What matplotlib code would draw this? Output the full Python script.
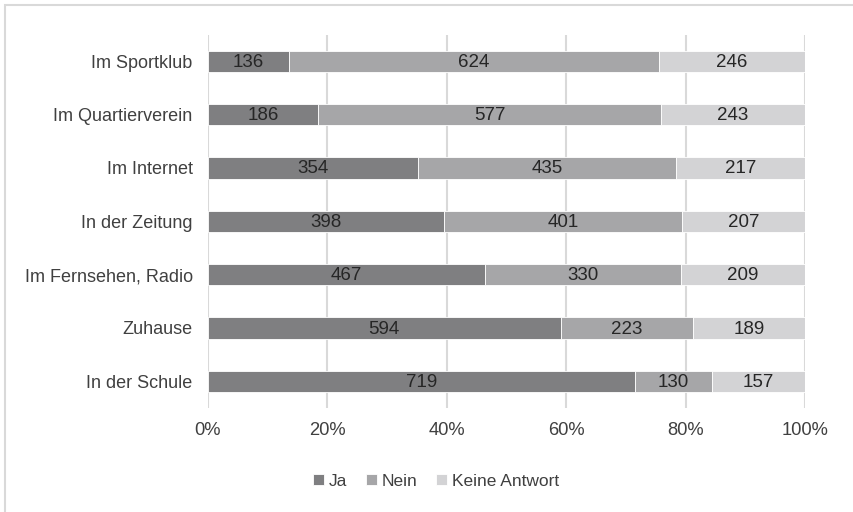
import matplotlib
matplotlib.use("Agg")
import matplotlib.pyplot as plt
from matplotlib.patches import Rectangle
import numpy as np

categories = ["Im Sportklub", "Im Quartierverein", "Im Internet", "In der Zeitung",
              "Im Fernsehen, Radio", "Zuhause", "In der Schule"]
ja = [136, 186, 354, 398, 467, 594, 719]
nein = [624, 577, 435, 401, 330, 223, 130]
keine = [246, 243, 217, 207, 209, 189, 157]
series_names = ["Ja", "Nein", "Keine Antwort"]
colors = ["#7f7f81", "#a6a6a8", "#d3d3d5"]

plt.rcParams['font.family'] = ['Liberation Sans', 'DejaVu Sans']

fig = plt.figure(figsize=(8.54, 5.12), dpi=100)
ax = fig.add_axes([208/854, 1-408/512, (805-208)/854, (408-34.5)/512])

data = np.array([ja, nein, keine], dtype=float)
totals = data.sum(axis=0)
shares = data / totals
y = np.arange(len(categories))[::-1]
left = np.zeros(len(categories))
handles = []
for i in range(3):
    b = ax.barh(y, shares[i], left=left, height=0.4, color=colors[i],
                edgecolor="white", linewidth=0.6, label=series_names[i], zorder=2)
    handles.append(b)
    for yy, l, w, v in zip(y, left, shares[i], data[i]):
        ax.text(l + w/2, yy - 0.02, f"{int(v)}", ha="center", va="center",
                fontsize=13.5, color="#262626", zorder=3)
    left = left + shares[i]

ax.set_xlim(0, 1)
ax.set_ylim(-0.5, len(categories) - 0.5)
ax.set_yticks(y)
ax.set_yticklabels(categories, fontsize=13, color="#404040")
ax.set_xticks(np.linspace(0, 1, 6))
ax.set_xticklabels([f"{int(v*100)}%" for v in np.linspace(0, 1, 6)], fontsize=13.2, color="#404040")
ax.tick_params(axis="both", length=0)
ax.tick_params(axis="x", pad=10)
ax.tick_params(axis="y", pad=11)
ax.grid(axis="x", color="#d9d9d9", linewidth=1.5, zorder=0)
for s in ax.spines.values():
    s.set_visible(False)

leg = fig.legend(handles=handles, labels=series_names, loc="center",
                 bbox_to_anchor=(436/854, 1-481/512), ncol=3, frameon=False,
                 fontsize=12.5, handlelength=0.63, handleheight=0.63,
                 handletextpad=0.25, columnspacing=1.1)
for t in leg.get_texts():
    t.set_color("#404040")

fig.patches.append(Rectangle((5/854, -0.1), 1.2, 1 - 5/512 + 0.1, transform=fig.transFigure,
                             fill=False, edgecolor="#d9d9d9", linewidth=1.5))

fig.savefig("out.png", dpi=100)
